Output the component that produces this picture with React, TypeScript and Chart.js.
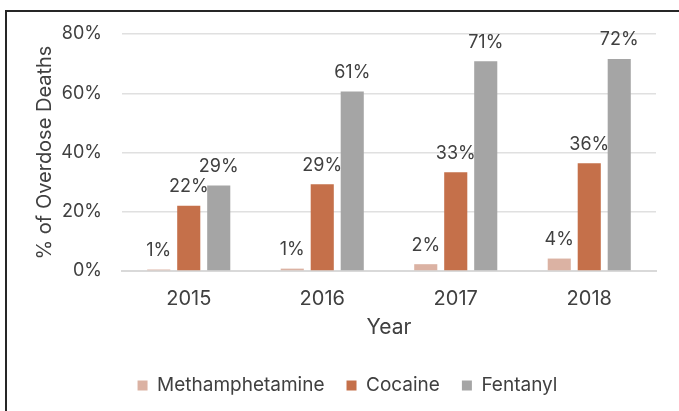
import React, { useEffect, useRef } from "react";
import { Chart, registerables } from "chart.js";

Chart.register(...registerables);

const years = ["2015", "2016", "2017", "2018"];
const methamphetamine = [0.5, 0.8, 2.3, 4.2];
const cocaine = [22.0, 29.3, 33.3, 36.4];
const fentanyl = [28.9, 60.6, 70.8, 71.6];
const yTicks = [0, 20, 40, 60, 80];

const FONT = "Inter, 'Liberation Sans', Arial, sans-serif";
const TEXT = "#404040";

const barLabels = {
  id: "barLabels",
  afterDatasetsDraw(chart: any) {
    const ctx = chart.ctx;
    ctx.save();
    ctx.font = `18px ${FONT}`;
    ctx.fillStyle = TEXT;
    ctx.textAlign = "center";
    ctx.textBaseline = "middle";
    chart.data.datasets.forEach((ds: any, i: number) => {
      const meta = chart.getDatasetMeta(i);
      meta.data.forEach((bar: any, j: number) => {
        const v = Math.round(ds.data[j]);
        ctx.fillText(v + "%", bar.x, bar.y - 19);
      });
    });
    ctx.restore();
  },
};

export default function App() {
  const ref = useRef<HTMLCanvasElement>(null);
  useEffect(() => {
    if (!ref.current) return;
    const chart = new Chart(ref.current, {
      type: "bar",
      data: {
        labels: years,
        datasets: [
          { label: "Methamphetamine", data: methamphetamine, backgroundColor: "#DBB2A3" },
          { label: "Cocaine", data: cocaine, backgroundColor: "#C5704A" },
          { label: "Fentanyl", data: fentanyl, backgroundColor: "#A5A5A5" },
        ],
      },
      options: {
        animation: false,
        responsive: false,
        devicePixelRatio: 1,
        datasets: { bar: { categoryPercentage: 0.674, barPercentage: 0.77 } },
        layout: { padding: { left: 32, right: 31, top: 22, bottom: 17 } },
        plugins: {
          tooltip: { enabled: false },
          legend: {
            position: "bottom",
            labels: {
              boxWidth: 10,
              boxHeight: 10,
              padding: 22,
              color: TEXT,
              font: { family: FONT, size: 19 },
            },
          },
        },
        scales: {
          x: {
            grid: { display: false, drawTicks: false },
            border: { color: "#D9D9D9", width: 2 },
            ticks: { color: TEXT, font: { family: FONT, size: 20 }, padding: 16 },
            title: {
              display: true,
              text: "Year",
              color: TEXT,
              font: { family: FONT, size: 21 },
              padding: { top: 0, bottom: 14 },
            },
            afterFit: (s: any) => {
              s.height = 83;
            },
          },
          y: {
            min: 0,
            max: 80,
            afterBuildTicks: (s: any) => {
              s.ticks = yTicks.map((v) => ({ value: v }));
            },
            grid: {
              color: "#E0E0E0",
              lineWidth: 1.5,
              drawTicks: true,
              tickLength: 20,
              tickColor: "rgba(0,0,0,0)",
            },
            border: { display: false },
            ticks: {
              color: TEXT,
              font: { family: FONT, size: 18 },
              padding: 0,
              callback: (v: any) => v + "%",
            },
            title: {
              display: true,
              text: "% of Overdose Deaths",
              color: TEXT,
              font: { family: FONT, size: 20 },
              padding: { top: -6, bottom: 0 },
            },
            afterFit: (s: any) => {
              s.width = 83;
            },
          },
        },
      },
      plugins: [barLabels],
    });
    return () => chart.destroy();
  }, []);

  return (
    <div style={{ position: "fixed", inset: 0, overflow: "hidden", background: "#fff" }}>
      <div
        style={{
          position: "absolute",
          left: 5,
          top: 10,
          width: 680,
          height: 410,
          border: "2px solid #262626",
          background: "#fff",
        }}
      >
        <canvas ref={ref} width={680} height={410} style={{ display: "block" }} />
      </div>
    </div>
  );
}
